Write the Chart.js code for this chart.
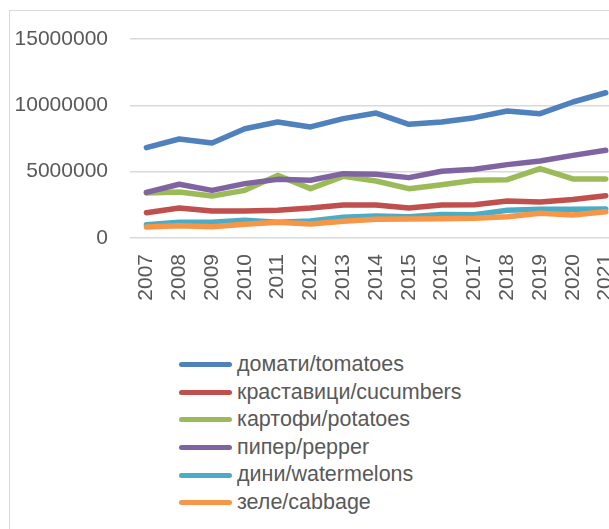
<!DOCTYPE html>
<html>
<head>
<meta charset="utf-8">
<script src="https://cdn.jsdelivr.net/npm/chart.js@4/dist/chart.umd.min.js"></script>
<style>
  html, body { margin: 0; padding: 0; background: #fff; overflow: hidden; }
  body { width: 609px; height: 529px; position: relative; }
  #frame { position: absolute; left: 9px; top: 10px; width: 700px; height: 600px; border: 1px solid #d9d9d9; }
  #chart { position: absolute; left: 0; top: 0; }
  #legend { position: absolute; left: 179px; top: 351px; font-family: "Liberation Sans", Arial, sans-serif; font-size: 21.5px; color: #595959; }
  #legend div { height: 27.6px; line-height: 27.6px; white-space: nowrap; display: flex; align-items: center; }
  #legend span.mark { display: inline-block; width: 53px; height: 5px; border-radius: 3px; margin-right: 5px; }
</style>
</head>
<body>
<div id="frame"></div>
<canvas id="chart" width="647" height="304"></canvas>
<div id="legend"></div>
<script>
// years on the x axis
const years = ['2007', '2008', '2009', '2010', '2011', '2012', '2013', '2014', '2015', '2016', '2017', '2018', '2019', '2020', '2021'];

// values
const tomatoes = [6810000, 7460000, 7160000, 8240000, 8740000, 8370000, 9000000, 9420000, 8570000, 8740000, 9070000, 9570000, 9370000, 10250000, 10950000];
const cucumbers = [1910000, 2260000, 2040000, 2040000, 2090000, 2260000, 2490000, 2490000, 2260000, 2490000, 2510000, 2790000, 2710000, 2910000, 3190000];
const potatoes = [3390000, 3470000, 3170000, 3590000, 4720000, 3720000, 4650000, 4300000, 3720000, 4020000, 4350000, 4400000, 5230000, 4450000, 4450000];
const pepper = [3440000, 4050000, 3590000, 4100000, 4420000, 4350000, 4850000, 4800000, 4550000, 5030000, 5180000, 5530000, 5800000, 6230000, 6610000];
const watermelons = [1000000, 1180000, 1180000, 1330000, 1180000, 1280000, 1560000, 1660000, 1610000, 1780000, 1760000, 2090000, 2160000, 2160000, 2190000];
const cabbage = [830000, 930000, 850000, 1030000, 1180000, 1060000, 1260000, 1410000, 1430000, 1460000, 1480000, 1610000, 1860000, 1730000, 1980000];

const seriesNames = ['домати/tomatoes', 'краставици/cucumbers', 'картофи/potatoes', 'пипер/pepper', 'дини/watermelons', 'зеле/cabbage'];
const seriesValues = [tomatoes, cucumbers, potatoes, pepper, watermelons, cabbage];
const seriesColors = ['#4f81bd', '#c0504d', '#9bbb59', '#8064a2', '#4bacc6', '#f79646'];

const yTicks = { min: 0, max: 15000000, step: 5000000 };

const datasets = seriesNames.map((name, i) => ({
  label: name,
  data: seriesValues[i],
  borderColor: seriesColors[i],
  backgroundColor: seriesColors[i],
  borderWidth: 5.5,
  borderCapStyle: 'round',
  borderJoinStyle: 'round',
  pointRadius: 0,
  tension: 0,
  order: seriesNames.length - i   // later series drawn on top, like Excel
}));

const tickFont = { family: '"Liberation Sans", Arial, sans-serif', size: 21 };

new Chart(document.getElementById('chart'), {
  type: 'line',
  data: { labels: years, datasets: datasets },
  options: {
    responsive: false,
    animation: false,
    layout: { padding: { top: 39, right: 3, left: 0, bottom: 0 } },
    plugins: { legend: { display: false }, tooltip: { enabled: false } },
    scales: {
      x: {
        offset: true,
        afterFit: (scale) => { scale.height = 66; },
        grid: { display: false, drawTicks: false },
        border: { display: false },
        ticks: { color: '#595959', font: tickFont, minRotation: 90, maxRotation: 90, padding: 16 }
      },
      y: {
        min: yTicks.min,
        max: yTicks.max,
        afterFit: (scale) => { scale.width = 130; },
        grid: { color: '#d9d9d9', lineWidth: 1.5, drawTicks: false },
        border: { display: false },
        ticks: {
          stepSize: yTicks.step,
          color: '#595959',
          font: tickFont,
          padding: 22,
          callback: (v) => String(v)
        }
      }
    }
  }
});

// legend, one entry per row
const legend = document.getElementById('legend');
datasets.forEach(ds => {
  const row = document.createElement('div');
  row.innerHTML = '<span class="mark" style="background:' + ds.borderColor + '"></span>' + ds.label;
  legend.appendChild(row);
});
</script>
</body>
</html>
